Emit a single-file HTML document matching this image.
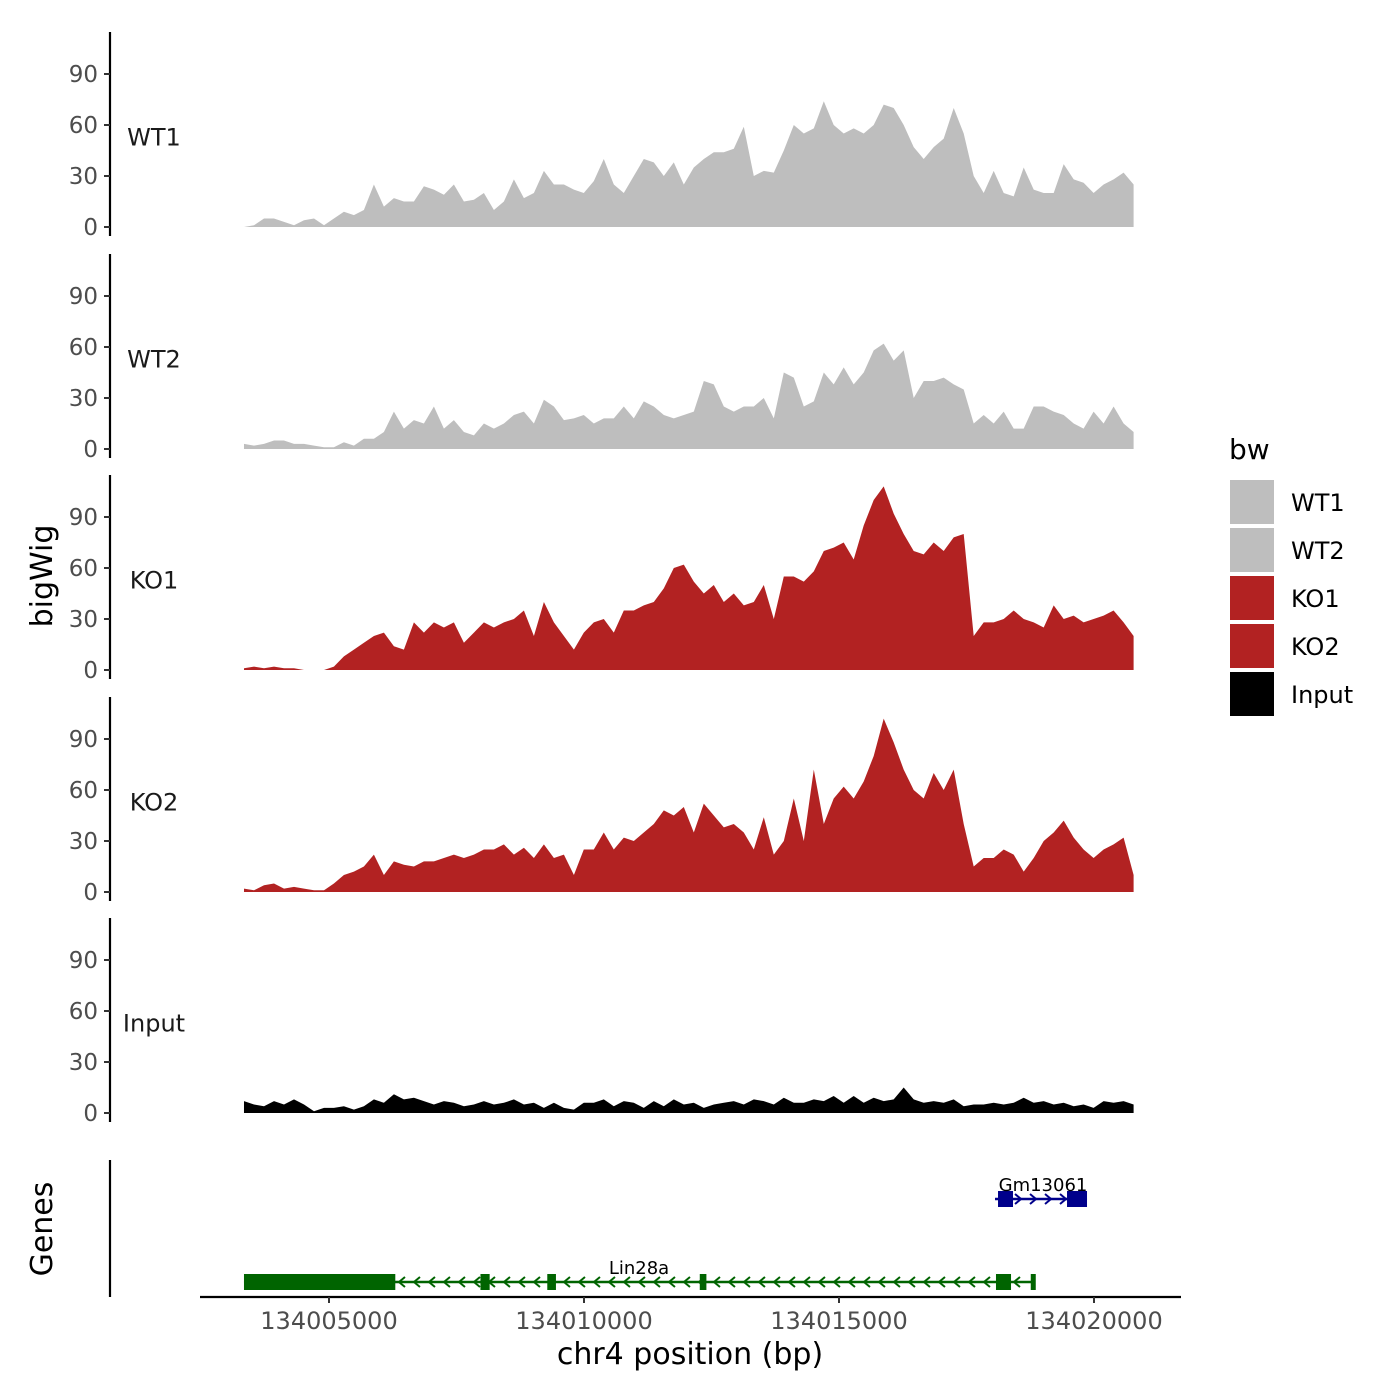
<!DOCTYPE html>
<html><head><meta charset="utf-8">
<style>
html,body{margin:0;padding:0;background:#fff;}
svg{display:block;font-family:"DejaVu Sans","Liberation Sans",sans-serif;}
</style></head>
<body>
<svg id="chart" width="1400" height="1400" viewBox="0 0 1400 1400"></svg>
<script>
const trackNames = ["WT1","WT2","KO1","KO2","Input"];
const trackColors = ["#bebebe","#bebebe","#b22222","#b22222","#000000"];
const startBp = 134003333;
const stepBp = 196;
const wt1 = [0,1,5,5,3,1,4,5,1,5,9,7,10,25,12,17,15,15,24,22,19,25,15,16,20,10,15,28,17,20,33,25,25,22,20,27,40,25,20,30,40,38,30,38,25,35,40,44,44,46,59,30,33,32,45,60,55,58,74,60,55,58,55,60,72,70,60,47,40,47,52,70,55,30,20,33,20,18,35,22,20,20,37,28,26,20,25,28,32,25];
const wt2 = [3,2,3,5,5,3,3,2,1,1,4,2,6,6,10,22,12,17,15,25,12,17,10,8,15,12,15,20,22,15,29,25,17,18,20,15,18,18,25,18,28,25,20,18,20,22,40,38,25,22,25,25,30,18,45,42,25,28,45,38,48,38,45,58,62,52,58,30,40,40,42,38,35,15,20,15,22,12,12,25,25,22,20,15,12,22,15,25,15,10];
const ko1 = [1,2,1,2,1,1,0,0,0,2,8,12,16,20,22,14,12,28,22,28,25,28,16,22,28,25,28,30,35,20,40,28,20,12,22,28,30,22,35,35,38,40,48,60,62,52,45,50,40,45,38,40,50,30,55,55,52,58,70,72,75,65,85,100,108,92,80,70,68,75,70,78,80,20,28,28,30,35,30,28,25,38,30,32,28,30,32,35,28,20];
const ko2 = [2,1,4,5,2,3,2,1,1,5,10,12,15,22,10,18,16,15,18,18,20,22,20,22,25,25,28,22,26,20,28,20,22,10,25,25,35,25,32,30,35,40,48,45,50,35,52,45,38,40,35,25,44,22,30,55,30,72,40,55,62,55,65,80,102,88,72,60,55,70,60,72,40,15,20,20,25,22,12,20,30,35,42,32,25,20,25,28,32,10];
const inputVals = [7,5,4,7,5,8,5,1,3,3,4,2,4,8,6,11,8,9,7,5,7,6,4,5,7,5,6,8,5,6,3,6,3,2,6,6,8,4,7,6,3,7,4,8,5,6,3,5,6,7,5,8,7,5,9,6,6,8,7,10,6,10,6,9,7,8,15,8,6,7,6,8,4,5,5,6,5,6,9,6,7,5,6,4,5,3,7,6,7,5];
const series = [wt1,wt2,ko1,ko2,inputVals];
const yTicks = [0,30,60,90];
const xTicks = [134005000,134010000,134015000,134020000];
const gm13061Exons = [[134018118,134018412],[134019471,134019863]];
const gm13061Span = [134018059,134019863];
const lin28aExons = [[134003333,134006300],[134007970,134008150],[134009280,134009450],[134012270,134012400],[134018078,134018373],[134018760,134018850]];
const lin28aSpan = [134003333,134018850];

const NS="http://www.w3.org/2000/svg";
const svg=document.getElementById('chart');
function mk(tag,attrs,parent){const e=document.createElementNS(NS,tag);for(const k in attrs)e.setAttribute(k,attrs[k]);(parent||svg).appendChild(e);return e;}
function xs(bp){return 329+(bp-134005000)*0.051;}
const zeros=[227,449,670,892,1113];
const pxPerUnit=51/30;

for(let t=0;t<5;t++){
  const z=zeros[t];
  const ys=v=>z-v*pxPerUnit;
  const g=mk('g',{});
  
  
  const vals=series[t];
  let d='M'+xs(startBp)+','+z;
  vals.forEach((v,i)=>{d+=' L'+xs(startBp+i*stepBp).toFixed(1)+','+ys(v).toFixed(1);});
  d+=' L'+xs(startBp+(vals.length-1)*stepBp).toFixed(1)+','+z+' Z';
  const area=mk('path',{d:d,fill:trackColors[t]},g);
  
  
  const ax=mk('line',{x1:110,x2:110,y1:z-195,y2:z+9,stroke:'#000','stroke-width':2.2},g);
  
  
  yTicks.forEach(v=>{
    mk('line',{x1:104,x2:110,y1:ys(v),y2:ys(v),stroke:'#333','stroke-width':2},g);
    const tx=mk('text',{x:98,y:ys(v)+8,'text-anchor':'end','font-size':23,fill:'#4d4d4d'},g);
    tx.textContent=v;
    
    
  });
  const lab=mk('text',{x:154,y:ys(52)+7,'text-anchor':'middle','font-size':24,fill:'#1a1a1a'},g);
  lab.textContent=trackNames[t];
  
  
}

// genes panel
const gg=mk('g',{});


mk('line',{x1:110,x2:110,y1:1160,y2:1297,stroke:'#000','stroke-width':2.2},gg);
function drawGene(span,exons,y,color,dir,name,lx,ly){
  const g=mk('g',{},gg);
  
  
  mk('line',{x1:xs(span[0]),x2:xs(span[1]),y1:y,y2:y,stroke:color,'stroke-width':2.5},g);
  for(let x=xs(span[0])+8;x<xs(span[1])-4;x+=15){
    const p=dir>0?`M${x-3},${y-5} L${x+3},${y} L${x-3},${y+5}`:`M${x+3},${y-5} L${x-3},${y} L${x+3},${y+5}`;
    mk('path',{d:p,stroke:color,'stroke-width':2,fill:'none'},g);
  }
  exons.forEach(e=>{
    const x1=xs(e[0]),x2=Math.max(xs(e[1]),x1+5);
    const r=mk('rect',{x:x1,y:y-8,width:x2-x1,height:16,fill:color},g);
    
    
  });
  const t=mk('text',{x:lx,y:ly,'text-anchor':'middle','font-size':18,fill:'#000'},g);
  t.textContent=name;
  
  
}
drawGene(gm13061Span,gm13061Exons,1199,'#00008b',1,'Gm13061',1043,1191);
drawGene(lin28aSpan,lin28aExons,1282,'#006400',-1,'Lin28a',639,1274);

// x axis
const xa=mk('line',{x1:200,x2:1181,y1:1297,y2:1297,stroke:'#000','stroke-width':2.2});


xTicks.forEach(v=>{
  mk('line',{x1:xs(v),x2:xs(v),y1:1297,y2:1303,stroke:'#333','stroke-width':2});
  const t=mk('text',{x:xs(v),y:1329,'text-anchor':'middle','font-size':24,fill:'#4d4d4d'});
  t.textContent=v;
  
  
});
const xt=mk('text',{x:690,y:1364,'text-anchor':'middle','font-size':30,fill:'#000'});
xt.textContent='chr4 position (bp)';


const yt=mk('text',{x:0,y:0,'text-anchor':'middle','font-size':30,fill:'#000',transform:'translate(52,576) rotate(-90)'});
yt.textContent='bigWig';


const gt=mk('text',{x:0,y:0,'text-anchor':'middle','font-size':30,fill:'#000',transform:'translate(52,1229) rotate(-90)'});
gt.textContent='Genes';



// legend
const lg=mk('g',{});


const lt=mk('text',{x:1229,y:459,'font-size':28,fill:'#000'},lg);
lt.textContent='bw';


trackNames.forEach((n,i)=>{
  const y=480+i*48;
  const e=mk('g',{},lg);
  
  
  mk('rect',{x:1230,y:y,width:44,height:44,fill:trackColors[i]},e);
  const t=mk('text',{x:1291,y:y+31,'font-size':24,fill:'#000'},e);
  t.textContent=n;
});
</script>
</body></html>
